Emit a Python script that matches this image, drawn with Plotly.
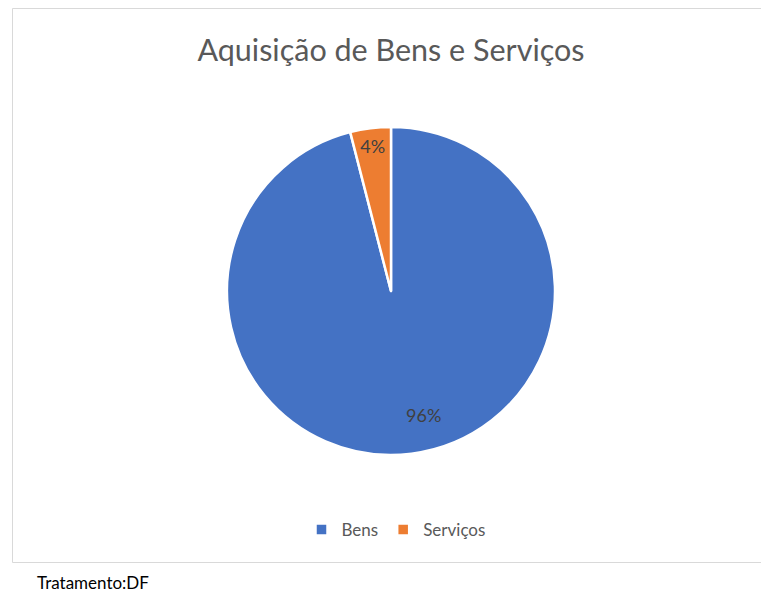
import plotly.graph_objects as go

categories = ["Bens", "Serviços"]
values = [96, 4]
colors = ["#4472C4", "#ED7D31"]
title_text = "Aquisição de Bens e Serviços"
source_text = "Tratamento:DF"

W, H = 761, 592
cx, cy, r = 391, 291, 164

total = sum(values)
pct = [f"{round(v / total * 100)}%" for v in values]

fig = go.Figure(go.Pie(
    labels=categories,
    values=values,
    sort=False,
    direction="clockwise",
    rotation=0,
    marker=dict(colors=colors, line=dict(color="white", width=2.5)),
    text=["", pct[1]],
    textinfo="text",
    textposition="inside",
    insidetextorientation="horizontal",
    textfont=dict(family="Lato", size=18, color="#404040"),
    domain=dict(x=[(cx - r) / W, (cx + r) / W], y=[1 - (cy + r) / H, 1 - (cy - r) / H]),
    hoverinfo="label+percent",
))

fig.update_layout(
    width=W, height=H,
    margin=dict(l=0, r=0, t=0, b=0),
    paper_bgcolor="white",
    plot_bgcolor="white",
    title=dict(text=title_text, x=391 / W, xanchor="center", y=1 - 50 / H, yanchor="middle",
               font=dict(family="Lato", size=30.5, color="#595959")),
    legend=dict(orientation="h", x=396 / W, xanchor="center", y=1 - 530 / H, yanchor="middle",
                font=dict(family="Lato", size=17, color="#595959"), itemwidth=30),
    shapes=[dict(type="rect", xref="paper", yref="paper", x0=12.5 / W, x1=1.01, y0=1 - 562.5 / H, y1=1 - 8.5 / H,
                 line=dict(color="#D9D9D9", width=1), fillcolor="rgba(0,0,0,0)")],
    annotations=[
        dict(text=pct[0], xref="paper", yref="paper", x=423 / W, y=1 - 415 / H,
             xanchor="center", yanchor="middle", showarrow=False,
             font=dict(family="Lato", size=18, color="#404040")),
        dict(text=source_text, xref="paper", yref="paper", x=35 / W, y=1 - 582 / H,
             xanchor="left", yanchor="middle", showarrow=False,
             font=dict(family="Lato", size=17, color="#000000")),
    ],
)

fig.write_html("out.html", config={"displayModeBar": False},
               post_script="document.body.style.margin='0';document.body.style.overflow='hidden';")
